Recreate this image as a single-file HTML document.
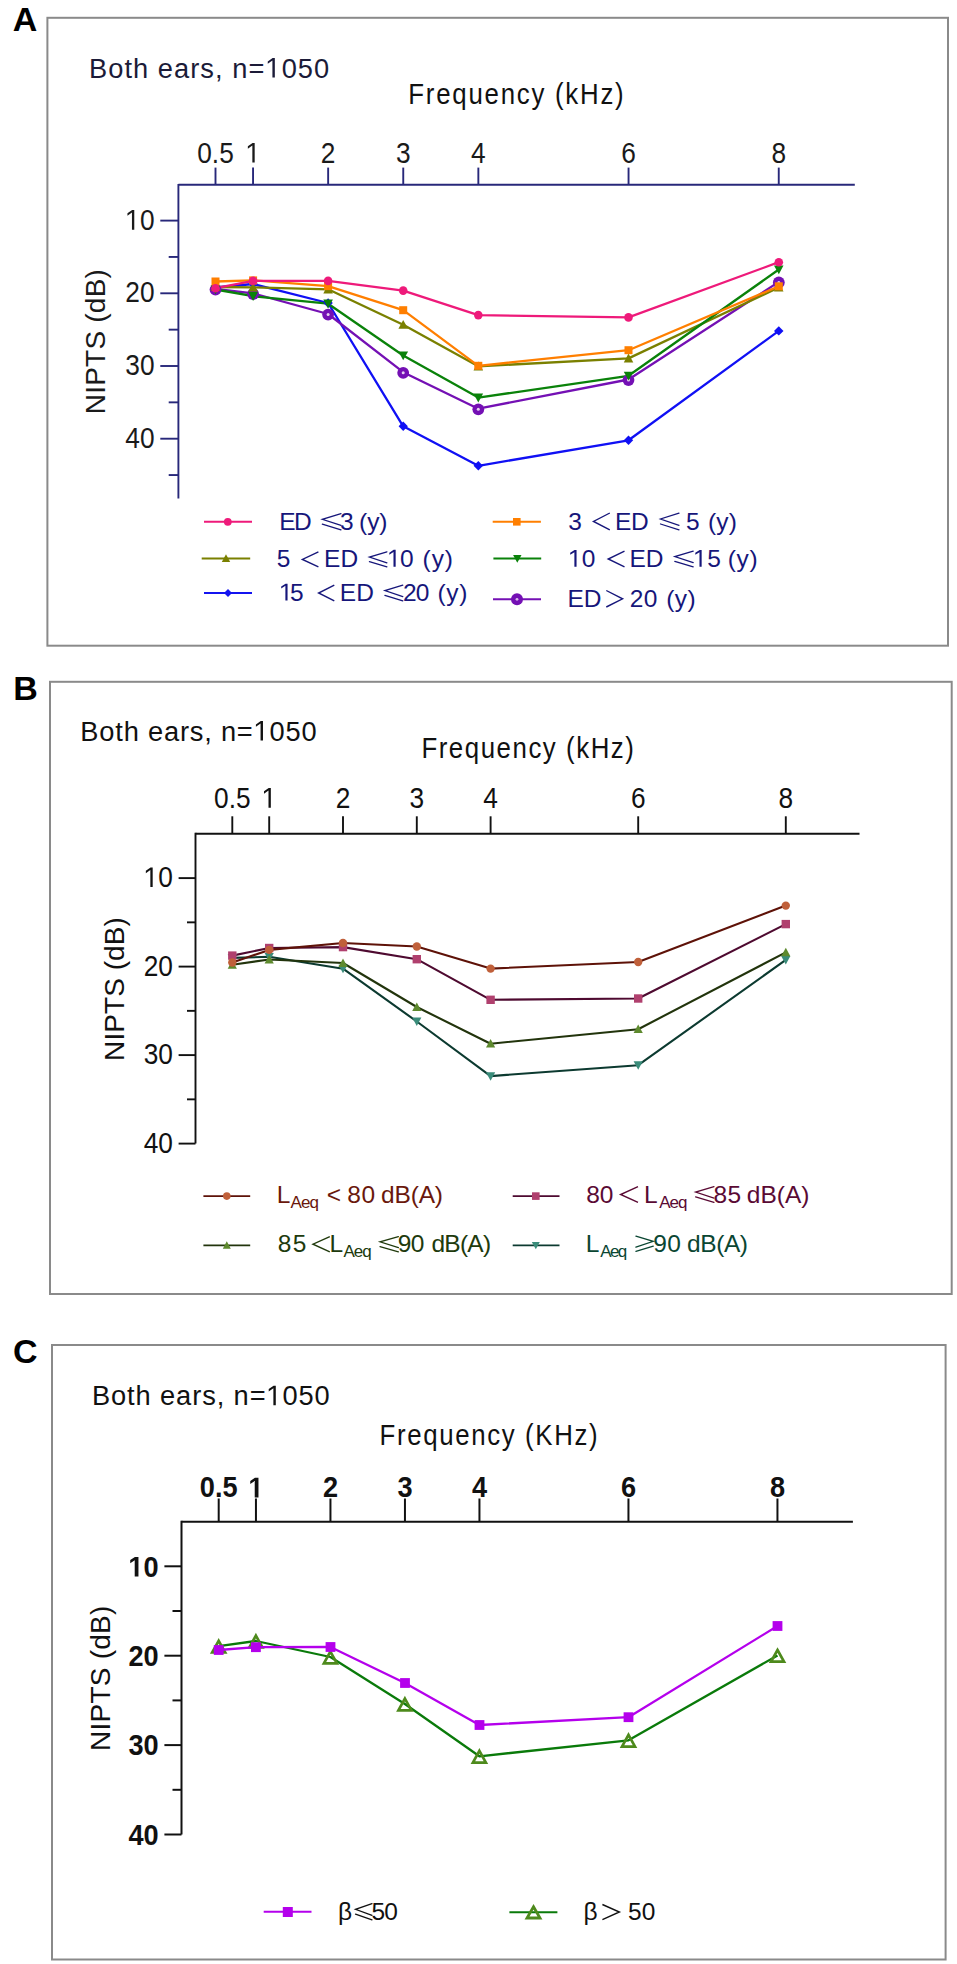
<!DOCTYPE html><html><head><meta charset="utf-8"><style>html,body{margin:0;padding:0;background:#fff;}svg{display:block;}text{font-family:"Liberation Sans", sans-serif;font-kerning:none;}</style></head><body>
<svg width="957" height="1964" viewBox="0 0 957 1964">
<rect width="957" height="1964" fill="#fff"/>
<rect x="47.4" y="17.8" width="900.6" height="627.9" fill="none" stroke="#8a8a8a" stroke-width="2.0"/>
<text x="12.65" y="30.60" font-size="34" fill="#000" font-weight="bold">A</text>
<g transform="translate(91.20,0) scale(0.960,1) translate(-91.20,0)">
<text x="88.87" y="77.60" font-size="28.4" fill="#1b1b38" letter-spacing="1.09">Both ears, n= 050</text>
<polygon points="279.97,77.60 279.97,60.61 275.11,63.73 275.11,61.38 280.17,58.06 282.48,58.06 282.48,77.60" fill="#1b1b38"/>
</g>
<g transform="translate(410.40,0) scale(0.900,1) translate(-410.40,0)">
<text x="408.05" y="104.00" font-size="28.7" fill="#111" letter-spacing="1.95">Frequency (kHz)</text>
</g>
<line x1="178.40" y1="184.80" x2="854.80" y2="184.80" stroke="#28287a" stroke-width="1.9"/>
<line x1="178.40" y1="184.00" x2="178.40" y2="498.50" stroke="#28287a" stroke-width="1.9"/>
<line x1="215.50" y1="167.60" x2="215.50" y2="184.80" stroke="#28287a" stroke-width="1.9"/>
<line x1="253.05" y1="167.60" x2="253.05" y2="184.80" stroke="#28287a" stroke-width="1.9"/>
<line x1="328.15" y1="167.60" x2="328.15" y2="184.80" stroke="#28287a" stroke-width="1.9"/>
<line x1="403.25" y1="167.60" x2="403.25" y2="184.80" stroke="#28287a" stroke-width="1.9"/>
<line x1="478.35" y1="167.60" x2="478.35" y2="184.80" stroke="#28287a" stroke-width="1.9"/>
<line x1="628.55" y1="167.60" x2="628.55" y2="184.80" stroke="#28287a" stroke-width="1.9"/>
<line x1="778.75" y1="167.60" x2="778.75" y2="184.80" stroke="#28287a" stroke-width="1.9"/>
<line x1="160.30" y1="220.60" x2="178.40" y2="220.60" stroke="#28287a" stroke-width="1.9"/>
<line x1="160.30" y1="293.30" x2="178.40" y2="293.30" stroke="#28287a" stroke-width="1.9"/>
<line x1="160.30" y1="366.00" x2="178.40" y2="366.00" stroke="#28287a" stroke-width="1.9"/>
<line x1="160.30" y1="438.70" x2="178.40" y2="438.70" stroke="#28287a" stroke-width="1.9"/>
<line x1="168.70" y1="256.95" x2="178.40" y2="256.95" stroke="#28287a" stroke-width="1.9"/>
<line x1="168.70" y1="329.65" x2="178.40" y2="329.65" stroke="#28287a" stroke-width="1.9"/>
<line x1="168.70" y1="402.35" x2="178.40" y2="402.35" stroke="#28287a" stroke-width="1.9"/>
<line x1="168.70" y1="475.05" x2="178.40" y2="475.05" stroke="#28287a" stroke-width="1.9"/>
<g transform="translate(215.50,0) scale(0.920,1) translate(-215.50,0)">
<text x="195.62" y="162.60" font-size="28.6" fill="#1a1a1a">0.5</text>
</g>
<g transform="translate(253.05,0) scale(0.920,1) translate(-253.05,0)">
<text x="245.10" y="162.60" font-size="28.6" fill="#1a1a1a"> </text>
<polygon points="252.29,162.60 252.29,145.49 247.40,148.64 247.40,146.26 252.50,142.92 254.82,142.92 254.82,162.60" fill="#1a1a1a"/>
</g>
<g transform="translate(328.15,0) scale(0.920,1) translate(-328.15,0)">
<text x="320.20" y="162.60" font-size="28.6" fill="#1a1a1a">2</text>
</g>
<g transform="translate(403.25,0) scale(0.920,1) translate(-403.25,0)">
<text x="395.30" y="162.60" font-size="28.6" fill="#1a1a1a">3</text>
</g>
<g transform="translate(478.35,0) scale(0.920,1) translate(-478.35,0)">
<text x="470.40" y="162.60" font-size="28.6" fill="#1a1a1a">4</text>
</g>
<g transform="translate(628.55,0) scale(0.920,1) translate(-628.55,0)">
<text x="620.60" y="162.60" font-size="28.6" fill="#1a1a1a">6</text>
</g>
<g transform="translate(778.75,0) scale(0.920,1) translate(-778.75,0)">
<text x="770.80" y="162.60" font-size="28.6" fill="#1a1a1a">8</text>
</g>
<g transform="translate(154.60,0) scale(0.920,1) translate(-154.60,0)">
<text x="122.79" y="229.70" font-size="28.6" fill="#1a1a1a"> 0</text>
<polygon points="129.98,229.70 129.98,212.59 125.09,215.74 125.09,213.36 130.19,210.02 132.51,210.02 132.51,229.70" fill="#1a1a1a"/>
</g>
<g transform="translate(154.60,0) scale(0.920,1) translate(-154.60,0)">
<text x="122.79" y="302.40" font-size="28.6" fill="#1a1a1a">20</text>
</g>
<g transform="translate(154.60,0) scale(0.920,1) translate(-154.60,0)">
<text x="122.79" y="375.10" font-size="28.6" fill="#1a1a1a">30</text>
</g>
<g transform="translate(154.60,0) scale(0.920,1) translate(-154.60,0)">
<text x="122.79" y="447.80" font-size="28.6" fill="#1a1a1a">40</text>
</g>
<text transform="rotate(-90)" x="-414.30" y="105.40" font-size="28" fill="#1a1a1a" letter-spacing="0.23">NIPTS (dB)</text>
<polyline fill="none" stroke="#1010f4" stroke-width="2.3" stroke-linejoin="round" points="215.5,287.5 253.1,284.0 328.1,303.0 403.2,426.3 478.3,465.8 628.5,440.3 778.8,330.9"/>
<polyline fill="none" stroke="#7410b4" stroke-width="2.3" stroke-linejoin="round" points="215.5,289.0 253.1,293.4 328.1,314.0 403.2,372.2 478.3,408.7 628.5,379.5 778.8,281.9"/>
<polyline fill="none" stroke="#7a8000" stroke-width="2.3" stroke-linejoin="round" points="215.5,287.0 253.1,287.4 328.1,289.3 403.2,324.7 478.3,366.3 628.5,358.4 778.8,287.5"/>
<polyline fill="none" stroke="#0a820a" stroke-width="2.3" stroke-linejoin="round" points="215.5,289.5 253.1,296.2 328.1,303.7 403.2,355.5 478.3,397.6 628.5,375.8 778.8,269.5"/>
<polyline fill="none" stroke="#ff7f00" stroke-width="2.3" stroke-linejoin="round" points="215.5,281.5 253.1,280.4 328.1,286.1 403.2,310.2 478.3,365.8 628.5,350.2 778.8,286.3"/>
<polyline fill="none" stroke="#ee1a7a" stroke-width="2.3" stroke-linejoin="round" points="215.5,288.2 253.1,280.9 328.1,280.9 403.2,290.6 478.3,315.1 628.5,317.4 778.8,262.2"/>
<polygon points="215.5,282.8 220.2,287.5 215.5,292.2 210.8,287.5" fill="#1010f4"/>
<polygon points="253.1,279.3 257.8,284.0 253.1,288.7 248.4,284.0" fill="#1010f4"/>
<polygon points="328.1,298.3 332.8,303.0 328.1,307.7 323.4,303.0" fill="#1010f4"/>
<polygon points="403.2,421.6 407.9,426.3 403.2,431.0 398.6,426.3" fill="#1010f4"/>
<polygon points="478.3,461.1 483.0,465.8 478.3,470.5 473.6,465.8" fill="#1010f4"/>
<polygon points="628.5,435.6 633.2,440.3 628.5,445.0 623.8,440.3" fill="#1010f4"/>
<polygon points="778.8,326.2 783.5,330.9 778.8,335.6 774.0,330.9" fill="#1010f4"/>
<circle cx="215.5" cy="289.6" r="5.90" fill="#7410b4"/>
<circle cx="215.5" cy="289.6" r="1.5" fill="#e6d0f0"/>
<circle cx="253.1" cy="294.0" r="5.90" fill="#7410b4"/>
<circle cx="253.1" cy="294.0" r="1.5" fill="#e6d0f0"/>
<circle cx="328.1" cy="314.6" r="5.90" fill="#7410b4"/>
<circle cx="328.1" cy="314.6" r="1.5" fill="#e6d0f0"/>
<circle cx="403.2" cy="372.8" r="5.90" fill="#7410b4"/>
<circle cx="403.2" cy="372.8" r="1.5" fill="#e6d0f0"/>
<circle cx="478.3" cy="409.3" r="5.90" fill="#7410b4"/>
<circle cx="478.3" cy="409.3" r="1.5" fill="#e6d0f0"/>
<circle cx="628.5" cy="380.1" r="5.90" fill="#7410b4"/>
<circle cx="628.5" cy="380.1" r="1.5" fill="#e6d0f0"/>
<circle cx="778.8" cy="282.5" r="5.90" fill="#7410b4"/>
<circle cx="778.8" cy="282.5" r="1.5" fill="#e6d0f0"/>
<polygon points="215.5,282.2 220.3,291.1 210.7,291.1" fill="#7a8000"/>
<polygon points="253.1,282.6 257.9,291.5 248.2,291.5" fill="#7a8000"/>
<polygon points="328.1,284.5 332.9,293.4 323.3,293.4" fill="#7a8000"/>
<polygon points="403.2,319.9 408.1,328.8 398.4,328.8" fill="#7a8000"/>
<polygon points="478.3,361.5 483.1,370.4 473.5,370.4" fill="#7a8000"/>
<polygon points="628.5,353.6 633.3,362.5 623.8,362.5" fill="#7a8000"/>
<polygon points="778.8,282.7 783.5,291.6 774.0,291.6" fill="#7a8000"/>
<polygon points="215.5,294.3 220.3,285.4 210.7,285.4" fill="#0a820a"/>
<polygon points="253.1,301.0 257.9,292.1 248.2,292.1" fill="#0a820a"/>
<polygon points="328.1,308.5 332.9,299.6 323.3,299.6" fill="#0a820a"/>
<polygon points="403.2,360.3 408.1,351.4 398.4,351.4" fill="#0a820a"/>
<polygon points="478.3,402.4 483.1,393.5 473.5,393.5" fill="#0a820a"/>
<polygon points="628.5,380.6 633.3,371.7 623.8,371.7" fill="#0a820a"/>
<polygon points="778.8,274.3 783.5,265.4 774.0,265.4" fill="#0a820a"/>
<rect x="211.5" y="277.5" width="8.00" height="8.00" fill="#ff7f00"/>
<rect x="249.1" y="276.4" width="8.00" height="8.00" fill="#ff7f00"/>
<rect x="324.1" y="282.1" width="8.00" height="8.00" fill="#ff7f00"/>
<rect x="399.2" y="306.2" width="8.00" height="8.00" fill="#ff7f00"/>
<rect x="474.3" y="361.8" width="8.00" height="8.00" fill="#ff7f00"/>
<rect x="624.5" y="346.2" width="8.00" height="8.00" fill="#ff7f00"/>
<rect x="774.8" y="282.3" width="8.00" height="8.00" fill="#ff7f00"/>
<circle cx="215.5" cy="288.2" r="4.30" fill="#ee1a7a"/>
<circle cx="253.1" cy="280.9" r="4.30" fill="#ee1a7a"/>
<circle cx="328.1" cy="280.9" r="4.30" fill="#ee1a7a"/>
<circle cx="403.2" cy="290.6" r="4.30" fill="#ee1a7a"/>
<circle cx="478.3" cy="315.1" r="4.30" fill="#ee1a7a"/>
<circle cx="628.5" cy="317.4" r="4.30" fill="#ee1a7a"/>
<circle cx="778.8" cy="262.2" r="4.30" fill="#ee1a7a"/>
<line x1="204.00" y1="521.80" x2="252.00" y2="521.80" stroke="#ee1a7a" stroke-width="2.0"/>
<circle cx="227.8" cy="521.8" r="3.90" fill="#ee1a7a"/>
<line x1="492.70" y1="521.80" x2="540.90" y2="521.80" stroke="#ff7f00" stroke-width="2.0"/>
<rect x="513.0" y="518.0" width="7.60" height="7.60" fill="#ff7f00"/>
<line x1="201.70" y1="558.50" x2="250.20" y2="558.50" stroke="#7a8000" stroke-width="2.0"/>
<polygon points="226.0,554.3 230.2,562.1 221.8,562.1" fill="#7a8000"/>
<line x1="493.40" y1="558.50" x2="541.20" y2="558.50" stroke="#0a820a" stroke-width="2.0"/>
<polygon points="517.3,562.7 521.5,554.9 513.1,554.9" fill="#0a820a"/>
<line x1="204.00" y1="593.00" x2="252.00" y2="593.00" stroke="#1414f0" stroke-width="2.0"/>
<polygon points="228.0,589.0 232.0,593.0 228.0,597.0 224.0,593.0" fill="#1414f0"/>
<line x1="493.00" y1="599.30" x2="541.00" y2="599.30" stroke="#7410b4" stroke-width="2.0"/>
<circle cx="517.0" cy="599.3" r="6.00" fill="#7410b4"/>
<circle cx="517.0" cy="599.3" r="1.4" fill="#d8b8e8"/>
<text x="279.19" y="530.30" font-size="24.5" fill="#16167a" letter-spacing="-1.55">ED</text>
<path d="M341.0,513.6 L322.3,519.3 L341.0,525.4 M322.3,524.2 L341.0,529.9" fill="none" stroke="#16167a" stroke-width="1.25" stroke-linecap="round"/>
<text x="340.07" y="530.30" font-size="24.5" fill="#16167a">3</text>
<text x="359.08" y="530.30" font-size="24.5" fill="#16167a" letter-spacing="-0.06">(y)</text>
<text x="568.27" y="530.00" font-size="24.5" fill="#16167a">3</text>
<path d="M609.8,513.0 L593.5,521.4 L609.8,529.8" fill="none" stroke="#16167a" stroke-width="1.4"/>
<text x="614.89" y="530.00" font-size="24.5" fill="#16167a" letter-spacing="-0.25">ED</text>
<path d="M679.0,513.1 L660.5,519.0 L679.0,525.3 M660.5,524.0 L679.0,529.9" fill="none" stroke="#16167a" stroke-width="1.25" stroke-linecap="round"/>
<text x="686.02" y="530.00" font-size="24.5" fill="#16167a">5</text>
<text x="707.88" y="530.00" font-size="24.5" fill="#16167a" letter-spacing="0.24">(y)</text>
<text x="276.82" y="566.70" font-size="24.5" fill="#16167a">5</text>
<path d="M318.4,551.9 L302.4,559.4 L318.4,566.8" fill="none" stroke="#16167a" stroke-width="1.4"/>
<text x="323.89" y="566.70" font-size="24.5" fill="#16167a" letter-spacing="0.35">ED</text>
<path d="M386.9,551.8 L369.4,557.1 L386.9,562.8 M369.4,561.6 L386.9,566.9" fill="none" stroke="#16167a" stroke-width="1.25" stroke-linecap="round"/>
<text x="387.33" y="566.70" font-size="24.5" fill="#16167a" letter-spacing="-0.92"> 0</text>
<polygon points="393.49,566.70 393.49,552.05 389.30,554.74 389.30,552.70 393.67,549.84 395.65,549.84 395.65,566.70" fill="#16167a"/>
<text x="422.58" y="566.70" font-size="24.5" fill="#16167a" letter-spacing="0.94">(y)</text>
<text x="568.23" y="566.80" font-size="24.5" fill="#16167a" letter-spacing="-0.12"> 0</text>
<polygon points="574.39,566.80 574.39,552.15 570.20,554.84 570.20,552.80 574.57,549.94 576.55,549.94 576.55,566.80" fill="#16167a"/>
<path d="M624.5,551.2 L608.2,559.0 L624.5,566.8" fill="none" stroke="#16167a" stroke-width="1.4"/>
<text x="629.59" y="566.80" font-size="24.5" fill="#16167a" letter-spacing="-0.05">ED</text>
<path d="M693.2,551.1 L674.8,556.6 L693.2,562.6 M674.8,561.4 L693.2,566.9" fill="none" stroke="#16167a" stroke-width="1.25" stroke-linecap="round"/>
<text x="693.33" y="566.80" font-size="24.5" fill="#16167a" letter-spacing="0.35"> 5</text>
<polygon points="699.49,566.80 699.49,552.15 695.30,554.84 695.30,552.80 699.67,549.94 701.65,549.94 701.65,566.80" fill="#16167a"/>
<text x="727.68" y="566.80" font-size="24.5" fill="#16167a" letter-spacing="0.74">(y)</text>
<text x="279.23" y="600.50" font-size="24.5" fill="#16167a" letter-spacing="-2.95"> 5</text>
<polygon points="285.39,600.50 285.39,585.85 281.20,588.54 281.20,586.50 285.57,583.64 287.55,583.64 287.55,600.50" fill="#16167a"/>
<path d="M334.3,585.2 L318.6,593.0 L334.3,600.8" fill="none" stroke="#16167a" stroke-width="1.4"/>
<text x="339.79" y="600.50" font-size="24.5" fill="#16167a" letter-spacing="0.25">ED</text>
<path d="M402.8,585.1 L384.9,590.6 L402.8,596.6 M384.9,595.4 L402.8,600.9" fill="none" stroke="#16167a" stroke-width="1.25" stroke-linecap="round"/>
<text x="403.07" y="600.50" font-size="24.5" fill="#16167a" letter-spacing="-0.86">20</text>
<text x="437.48" y="600.50" font-size="24.5" fill="#16167a" letter-spacing="0.74">(y)</text>
<text x="567.49" y="607.00" font-size="24.5" fill="#16167a" letter-spacing="-0.05">ED</text>
<path d="M606.3,590.5 L622.6,598.8 L606.3,607.0" fill="none" stroke="#16167a" stroke-width="1.4"/>
<text x="629.77" y="607.00" font-size="24.5" fill="#16167a" letter-spacing="0.24">20</text>
<text x="666.18" y="607.00" font-size="24.5" fill="#16167a" letter-spacing="0.44">(y)</text>
<rect x="50" y="681.8" width="901.7" height="612.2" fill="none" stroke="#8a8a8a" stroke-width="2.0"/>
<text x="13.23" y="700.40" font-size="34" fill="#000" font-weight="bold">B</text>
<g transform="translate(82.60,0) scale(0.960,1) translate(-82.60,0)">
<text x="80.27" y="740.60" font-size="28.4" fill="#111" letter-spacing="0.83">Both ears, n= 050</text>
<polygon points="267.98,740.60 267.98,723.61 263.13,726.73 263.13,724.38 268.19,721.06 270.49,721.06 270.49,740.60" fill="#111"/>
</g>
<g transform="translate(423.50,0) scale(0.900,1) translate(-423.50,0)">
<text x="421.15" y="757.80" font-size="28.7" fill="#111" letter-spacing="1.72">Frequency (kHz)</text>
</g>
<line x1="195.50" y1="833.70" x2="859.50" y2="833.70" stroke="#111" stroke-width="1.9"/>
<line x1="195.50" y1="832.80" x2="195.50" y2="1143.50" stroke="#111" stroke-width="1.9"/>
<line x1="232.30" y1="816.30" x2="232.30" y2="833.70" stroke="#111" stroke-width="1.9"/>
<line x1="269.20" y1="816.30" x2="269.20" y2="833.70" stroke="#111" stroke-width="1.9"/>
<line x1="343.00" y1="816.30" x2="343.00" y2="833.70" stroke="#111" stroke-width="1.9"/>
<line x1="416.80" y1="816.30" x2="416.80" y2="833.70" stroke="#111" stroke-width="1.9"/>
<line x1="490.60" y1="816.30" x2="490.60" y2="833.70" stroke="#111" stroke-width="1.9"/>
<line x1="638.20" y1="816.30" x2="638.20" y2="833.70" stroke="#111" stroke-width="1.9"/>
<line x1="785.80" y1="816.30" x2="785.80" y2="833.70" stroke="#111" stroke-width="1.9"/>
<line x1="178.60" y1="878.10" x2="195.50" y2="878.10" stroke="#111" stroke-width="1.9"/>
<line x1="178.60" y1="966.60" x2="195.50" y2="966.60" stroke="#111" stroke-width="1.9"/>
<line x1="178.60" y1="1055.10" x2="195.50" y2="1055.10" stroke="#111" stroke-width="1.9"/>
<line x1="178.60" y1="1143.60" x2="195.50" y2="1143.60" stroke="#111" stroke-width="1.9"/>
<line x1="187.00" y1="922.35" x2="195.50" y2="922.35" stroke="#111" stroke-width="1.9"/>
<line x1="187.00" y1="1010.85" x2="195.50" y2="1010.85" stroke="#111" stroke-width="1.9"/>
<line x1="187.00" y1="1099.35" x2="195.50" y2="1099.35" stroke="#111" stroke-width="1.9"/>
<g transform="translate(232.30,0) scale(0.920,1) translate(-232.30,0)">
<text x="212.42" y="807.70" font-size="28.6" fill="#111">0.5</text>
</g>
<g transform="translate(269.20,0) scale(0.920,1) translate(-269.20,0)">
<text x="261.25" y="807.70" font-size="28.6" fill="#111"> </text>
<polygon points="268.44,807.70 268.44,790.59 263.55,793.74 263.55,791.36 268.65,788.02 270.97,788.02 270.97,807.70" fill="#111"/>
</g>
<g transform="translate(343.00,0) scale(0.920,1) translate(-343.00,0)">
<text x="335.05" y="807.70" font-size="28.6" fill="#111">2</text>
</g>
<g transform="translate(416.80,0) scale(0.920,1) translate(-416.80,0)">
<text x="408.85" y="807.70" font-size="28.6" fill="#111">3</text>
</g>
<g transform="translate(490.60,0) scale(0.920,1) translate(-490.60,0)">
<text x="482.65" y="807.70" font-size="28.6" fill="#111">4</text>
</g>
<g transform="translate(638.20,0) scale(0.920,1) translate(-638.20,0)">
<text x="630.25" y="807.70" font-size="28.6" fill="#111">6</text>
</g>
<g transform="translate(785.80,0) scale(0.920,1) translate(-785.80,0)">
<text x="777.85" y="807.70" font-size="28.6" fill="#111">8</text>
</g>
<g transform="translate(173.00,0) scale(0.920,1) translate(-173.00,0)">
<text x="141.19" y="887.10" font-size="28.6" fill="#111"> 0</text>
<polygon points="148.38,887.10 148.38,869.99 143.49,873.14 143.49,870.76 148.59,867.42 150.91,867.42 150.91,887.10" fill="#111"/>
</g>
<g transform="translate(173.00,0) scale(0.920,1) translate(-173.00,0)">
<text x="141.19" y="975.60" font-size="28.6" fill="#111">20</text>
</g>
<g transform="translate(173.00,0) scale(0.920,1) translate(-173.00,0)">
<text x="141.19" y="1064.10" font-size="28.6" fill="#111">30</text>
</g>
<g transform="translate(173.00,0) scale(0.920,1) translate(-173.00,0)">
<text x="141.19" y="1152.60" font-size="28.6" fill="#111">40</text>
</g>
<text transform="rotate(-90)" x="-1060.90" y="124.10" font-size="28" fill="#111" letter-spacing="0.06">NIPTS (dB)</text>
<polyline fill="none" stroke="#0c3a30" stroke-width="2.1" stroke-linejoin="round" points="232.3,957.9 269.2,956.8 343.0,968.7 416.8,1021.5 490.6,1076.1 638.2,1065.2 785.8,959.9"/>
<polyline fill="none" stroke="#22340c" stroke-width="2.1" stroke-linejoin="round" points="232.3,964.8 269.2,959.5 343.0,963.0 416.8,1007.0 490.6,1043.7 638.2,1029.2 785.8,952.4"/>
<polyline fill="none" stroke="#4e0a30" stroke-width="2.1" stroke-linejoin="round" points="232.3,955.6 269.2,948.0 343.0,947.1 416.8,959.2 490.6,999.8 638.2,998.5 785.8,924.1"/>
<polyline fill="none" stroke="#5e1208" stroke-width="2.1" stroke-linejoin="round" points="232.3,962.5 269.2,949.9 343.0,943.0 416.8,946.5 490.6,968.6 638.2,962.0 785.8,905.6"/>
<polygon points="232.3,962.5 236.9,954.0 227.7,954.0" fill="#3a8c7a"/>
<polygon points="269.2,961.4 273.8,952.9 264.6,952.9" fill="#3a8c7a"/>
<polygon points="343.0,973.3 347.6,964.8 338.4,964.8" fill="#3a8c7a"/>
<polygon points="416.8,1026.1 421.4,1017.6 412.2,1017.6" fill="#3a8c7a"/>
<polygon points="490.6,1080.7 495.2,1072.2 486.0,1072.2" fill="#3a8c7a"/>
<polygon points="638.2,1069.8 642.8,1061.3 633.6,1061.3" fill="#3a8c7a"/>
<polygon points="785.8,964.5 790.4,956.0 781.2,956.0" fill="#3a8c7a"/>
<polygon points="232.3,960.2 236.9,968.7 227.7,968.7" fill="#5e8a2e"/>
<polygon points="269.2,954.9 273.8,963.4 264.6,963.4" fill="#5e8a2e"/>
<polygon points="343.0,958.4 347.6,966.9 338.4,966.9" fill="#5e8a2e"/>
<polygon points="416.8,1002.4 421.4,1010.9 412.2,1010.9" fill="#5e8a2e"/>
<polygon points="490.6,1039.1 495.2,1047.6 486.0,1047.6" fill="#5e8a2e"/>
<polygon points="638.2,1024.6 642.8,1033.1 633.6,1033.1" fill="#5e8a2e"/>
<polygon points="785.8,947.8 790.4,956.3 781.2,956.3" fill="#5e8a2e"/>
<rect x="228.1" y="951.4" width="8.40" height="8.40" fill="#b0406e"/>
<rect x="265.0" y="943.8" width="8.40" height="8.40" fill="#b0406e"/>
<rect x="338.8" y="942.9" width="8.40" height="8.40" fill="#b0406e"/>
<rect x="412.6" y="955.0" width="8.40" height="8.40" fill="#b0406e"/>
<rect x="486.4" y="995.6" width="8.40" height="8.40" fill="#b0406e"/>
<rect x="634.0" y="994.3" width="8.40" height="8.40" fill="#b0406e"/>
<rect x="781.6" y="919.9" width="8.40" height="8.40" fill="#b0406e"/>
<circle cx="232.3" cy="962.5" r="4.20" fill="#c0603a"/>
<circle cx="269.2" cy="949.9" r="4.20" fill="#c0603a"/>
<circle cx="343.0" cy="943.0" r="4.20" fill="#c0603a"/>
<circle cx="416.8" cy="946.5" r="4.20" fill="#c0603a"/>
<circle cx="490.6" cy="968.6" r="4.20" fill="#c0603a"/>
<circle cx="638.2" cy="962.0" r="4.20" fill="#c0603a"/>
<circle cx="785.8" cy="905.6" r="4.20" fill="#c0603a"/>
<line x1="203.40" y1="1196.10" x2="250.20" y2="1196.10" stroke="#5e1208" stroke-width="1.8"/>
<circle cx="226.8" cy="1196.1" r="3.80" fill="#c0603a"/>
<line x1="512.70" y1="1196.10" x2="559.50" y2="1196.10" stroke="#4e0a30" stroke-width="1.8"/>
<rect x="532.0" y="1192.3" width="7.60" height="7.60" fill="#b0406e"/>
<line x1="203.40" y1="1245.30" x2="250.20" y2="1245.30" stroke="#22340c" stroke-width="1.8"/>
<polygon points="226.8,1241.3 230.8,1248.7 222.8,1248.7" fill="#5e8a2e"/>
<line x1="512.70" y1="1245.30" x2="559.50" y2="1245.30" stroke="#0c3a30" stroke-width="1.8"/>
<polygon points="535.8,1249.3 539.8,1241.9 531.8,1241.9" fill="#3a8c7a"/>
<text x="276.69" y="1202.60" font-size="24.5" fill="#6a180c">L</text>
<text x="290.57" y="1208.00" font-size="17" fill="#6a180c" letter-spacing="-0.96">Aeq</text>
<text x="326.72" y="1202.60" font-size="24.5" fill="#6a180c">&lt;</text>
<text x="347.34" y="1202.60" font-size="24.5" fill="#6a180c" letter-spacing="0.57">80</text>
<text x="381.07" y="1202.60" font-size="24.5" fill="#6a180c" letter-spacing="-0.17">dB(A)</text>
<text x="277.64" y="1251.80" font-size="24.5" fill="#203a0c" letter-spacing="1.44">85</text>
<path d="M329.8,1236.7 L313.0,1244.2 L329.8,1251.8" fill="none" stroke="#203a0c" stroke-width="1.4"/>
<text x="329.59" y="1251.80" font-size="24.5" fill="#203a0c">L</text>
<text x="343.47" y="1257.00" font-size="17" fill="#203a0c" letter-spacing="-0.96">Aeq</text>
<path d="M398.4,1236.6 L380.0,1241.9 L398.4,1247.7 M380.0,1246.6 L398.4,1251.9" fill="none" stroke="#203a0c" stroke-width="1.25" stroke-linecap="round"/>
<text x="397.75" y="1251.80" font-size="24.5" fill="#203a0c" letter-spacing="-0.55">90</text>
<text x="431.47" y="1251.80" font-size="24.5" fill="#203a0c" letter-spacing="-0.74">dB(A)</text>
<text x="586.24" y="1202.60" font-size="24.5" fill="#5a0a34" letter-spacing="-0.23">80</text>
<path d="M638.0,1186.7 L620.6,1194.5 L638.0,1202.3" fill="none" stroke="#5a0a34" stroke-width="1.4"/>
<text x="643.99" y="1202.60" font-size="24.5" fill="#5a0a34">L</text>
<text x="659.17" y="1208.00" font-size="17" fill="#5a0a34" letter-spacing="-1.01">Aeq</text>
<path d="M714.0,1186.6 L695.6,1192.1 L714.0,1198.1 M695.6,1196.9 L714.0,1202.4" fill="none" stroke="#5a0a34" stroke-width="1.25" stroke-linecap="round"/>
<text x="713.44" y="1202.60" font-size="24.5" fill="#5a0a34" letter-spacing="0.54">85</text>
<text x="746.77" y="1202.60" font-size="24.5" fill="#5a0a34">dB(A)</text>
<text x="585.79" y="1251.50" font-size="24.5" fill="#0a4632">L</text>
<text x="600.17" y="1257.00" font-size="17" fill="#0a4632" letter-spacing="-1.61">Aeq</text>
<path d="M635.9,1236.1 L653.3,1241.4 L635.9,1247.2 M653.3,1246.1 L635.9,1251.4" fill="none" stroke="#0a4632" stroke-width="1.25" stroke-linecap="round"/>
<text x="653.15" y="1251.50" font-size="24.5" fill="#0a4632" letter-spacing="0.55">90</text>
<text x="687.07" y="1251.50" font-size="24.5" fill="#0a4632" letter-spacing="-0.42">dB(A)</text>
<rect x="52" y="1345" width="893.6" height="614.5" fill="none" stroke="#8a8a8a" stroke-width="2.0"/>
<text x="13.01" y="1363.00" font-size="34" fill="#000" font-weight="bold">C</text>
<g transform="translate(94.20,0) scale(0.960,1) translate(-94.20,0)">
<text x="91.87" y="1405.30" font-size="28.4" fill="#111" letter-spacing="0.93">Both ears, n= 050</text>
<polygon points="280.85,1405.30 280.85,1388.31 276.00,1391.43 276.00,1389.08 281.06,1385.76 283.36,1385.76 283.36,1405.30" fill="#111"/>
</g>
<g transform="translate(381.60,0) scale(0.900,1) translate(-381.60,0)">
<text x="379.25" y="1445.10" font-size="28.7" fill="#111" letter-spacing="1.82">Frequency (KHz)</text>
</g>
<line x1="181.50" y1="1521.70" x2="852.90" y2="1521.70" stroke="#111" stroke-width="2.0"/>
<line x1="181.50" y1="1520.80" x2="181.50" y2="1834.60" stroke="#111" stroke-width="2.0"/>
<line x1="218.70" y1="1498.50" x2="218.70" y2="1521.70" stroke="#111" stroke-width="2.0"/>
<line x1="255.95" y1="1498.50" x2="255.95" y2="1521.70" stroke="#111" stroke-width="2.0"/>
<line x1="330.45" y1="1498.50" x2="330.45" y2="1521.70" stroke="#111" stroke-width="2.0"/>
<line x1="404.95" y1="1498.50" x2="404.95" y2="1521.70" stroke="#111" stroke-width="2.0"/>
<line x1="479.45" y1="1498.50" x2="479.45" y2="1521.70" stroke="#111" stroke-width="2.0"/>
<line x1="628.45" y1="1498.50" x2="628.45" y2="1521.70" stroke="#111" stroke-width="2.0"/>
<line x1="777.45" y1="1498.50" x2="777.45" y2="1521.70" stroke="#111" stroke-width="2.0"/>
<line x1="164.40" y1="1566.30" x2="181.50" y2="1566.30" stroke="#111" stroke-width="2.0"/>
<line x1="164.40" y1="1655.70" x2="181.50" y2="1655.70" stroke="#111" stroke-width="2.0"/>
<line x1="164.40" y1="1745.10" x2="181.50" y2="1745.10" stroke="#111" stroke-width="2.0"/>
<line x1="164.40" y1="1834.50" x2="181.50" y2="1834.50" stroke="#111" stroke-width="2.0"/>
<line x1="172.50" y1="1611.00" x2="181.50" y2="1611.00" stroke="#111" stroke-width="2.0"/>
<line x1="172.50" y1="1700.40" x2="181.50" y2="1700.40" stroke="#111" stroke-width="2.0"/>
<line x1="172.50" y1="1789.80" x2="181.50" y2="1789.80" stroke="#111" stroke-width="2.0"/>
<g transform="translate(218.70,0) scale(0.950,1) translate(-218.70,0)">
<text x="198.82" y="1497.40" font-size="28.6" fill="#111" font-weight="bold">0.5</text>
</g>
<g transform="translate(255.95,0) scale(0.950,1) translate(-255.95,0)">
<text x="248.00" y="1497.40" font-size="28.6" fill="#111" font-weight="bold"> </text>
<polygon points="254.67,1497.40 254.67,1481.06 249.95,1484.01 249.95,1480.92 254.88,1477.72 258.60,1477.72 258.60,1497.40" fill="#111"/>
</g>
<g transform="translate(330.45,0) scale(0.950,1) translate(-330.45,0)">
<text x="322.50" y="1497.40" font-size="28.6" fill="#111" font-weight="bold">2</text>
</g>
<g transform="translate(404.95,0) scale(0.950,1) translate(-404.95,0)">
<text x="397.00" y="1497.40" font-size="28.6" fill="#111" font-weight="bold">3</text>
</g>
<g transform="translate(479.45,0) scale(0.950,1) translate(-479.45,0)">
<text x="471.50" y="1497.40" font-size="28.6" fill="#111" font-weight="bold">4</text>
</g>
<g transform="translate(628.45,0) scale(0.950,1) translate(-628.45,0)">
<text x="620.50" y="1497.40" font-size="28.6" fill="#111" font-weight="bold">6</text>
</g>
<g transform="translate(777.45,0) scale(0.950,1) translate(-777.45,0)">
<text x="769.50" y="1497.40" font-size="28.6" fill="#111" font-weight="bold">8</text>
</g>
<g transform="translate(158.60,0) scale(0.950,1) translate(-158.60,0)">
<text x="126.79" y="1576.60" font-size="28.6" fill="#111" font-weight="bold"> 0</text>
<polygon points="133.46,1576.60 133.46,1560.26 128.74,1563.21 128.74,1560.12 133.67,1556.92 137.39,1556.92 137.39,1576.60" fill="#111"/>
</g>
<g transform="translate(158.60,0) scale(0.950,1) translate(-158.60,0)">
<text x="126.79" y="1666.00" font-size="28.6" fill="#111" font-weight="bold">20</text>
</g>
<g transform="translate(158.60,0) scale(0.950,1) translate(-158.60,0)">
<text x="126.79" y="1755.40" font-size="28.6" fill="#111" font-weight="bold">30</text>
</g>
<g transform="translate(158.60,0) scale(0.950,1) translate(-158.60,0)">
<text x="126.79" y="1844.80" font-size="28.6" fill="#111" font-weight="bold">40</text>
</g>
<text transform="rotate(-90)" x="-1750.90" y="110.00" font-size="28" fill="#111" letter-spacing="0.23">NIPTS (dB)</text>
<polyline fill="none" stroke="#0a7a0a" stroke-width="2.3" stroke-linejoin="round" points="218.7,1646.2 255.9,1641.0 330.4,1657.0 404.9,1704.0 479.4,1756.3 628.5,1740.3 777.5,1655.4"/>
<polygon points="218.7,1640.8 225.2,1652.5 212.2,1652.5" fill="none" stroke="#4e8a1c" stroke-width="2.7" stroke-linejoin="miter"/>
<polygon points="255.9,1635.6 262.4,1647.3 249.4,1647.3" fill="none" stroke="#4e8a1c" stroke-width="2.7" stroke-linejoin="miter"/>
<polygon points="330.4,1651.6 336.9,1663.3 323.9,1663.3" fill="none" stroke="#4e8a1c" stroke-width="2.7" stroke-linejoin="miter"/>
<polygon points="404.9,1698.6 411.4,1710.3 398.4,1710.3" fill="none" stroke="#4e8a1c" stroke-width="2.7" stroke-linejoin="miter"/>
<polygon points="479.4,1750.9 485.9,1762.6 472.9,1762.6" fill="none" stroke="#4e8a1c" stroke-width="2.7" stroke-linejoin="miter"/>
<polygon points="628.5,1734.9 635.0,1746.6 622.0,1746.6" fill="none" stroke="#4e8a1c" stroke-width="2.7" stroke-linejoin="miter"/>
<polygon points="777.5,1650.0 784.0,1661.7 771.0,1661.7" fill="none" stroke="#4e8a1c" stroke-width="2.7" stroke-linejoin="miter"/>
<polyline fill="none" stroke="#b400ec" stroke-width="2.3" stroke-linejoin="round" points="218.7,1650.0 255.9,1647.2 330.4,1647.0 404.9,1683.0 479.4,1725.0 628.5,1717.2 777.5,1626.0"/>
<rect x="213.8" y="1645.1" width="9.80" height="9.80" fill="#b400ec"/>
<rect x="251.0" y="1642.3" width="9.80" height="9.80" fill="#b400ec"/>
<rect x="325.6" y="1642.1" width="9.80" height="9.80" fill="#b400ec"/>
<rect x="400.1" y="1678.1" width="9.80" height="9.80" fill="#b400ec"/>
<rect x="474.6" y="1720.1" width="9.80" height="9.80" fill="#b400ec"/>
<rect x="623.6" y="1712.3" width="9.80" height="9.80" fill="#b400ec"/>
<rect x="772.6" y="1621.1" width="9.80" height="9.80" fill="#b400ec"/>
<line x1="263.70" y1="1911.80" x2="311.50" y2="1911.80" stroke="#b400ec" stroke-width="2.0"/>
<rect x="282.8" y="1907.0" width="10.00" height="10.00" fill="#b400ec"/>
<line x1="509.40" y1="1912.30" x2="557.40" y2="1912.30" stroke="#0a7a0a" stroke-width="2.0"/>
<polygon points="533.5,1906.8 540.0,1918.0 527.0,1918.0" fill="none" stroke="#4e8a1c" stroke-width="2.8"/>
<line x1="509.4" y1="1912.3" x2="557.4" y2="1912.3" stroke="#0a7a0a" stroke-width="2.0" opacity="0.0"/>
<text x="338.00" y="1920.10" font-size="24.5" fill="#111">β</text>
<path d="M372.0,1903.6 L355.5,1909.3 L372.0,1915.4 M355.5,1914.2 L372.0,1919.9" fill="none" stroke="#111" stroke-width="1.25" stroke-linecap="round"/>
<text x="371.52" y="1920.10" font-size="24.5" fill="#111" letter-spacing="-1.01">50</text>
<text x="583.60" y="1920.30" font-size="24.5" fill="#111">β</text>
<path d="M602.4,1904.5 L619.4,1912.0 L602.4,1919.6" fill="none" stroke="#111" stroke-width="1.4"/>
<g transform="translate(628.02,1920.30) scale(1.0,1)">
<text x="0.00" y="0.00" font-size="24.5" fill="#111">50</text>
</g>
</svg></body></html>
